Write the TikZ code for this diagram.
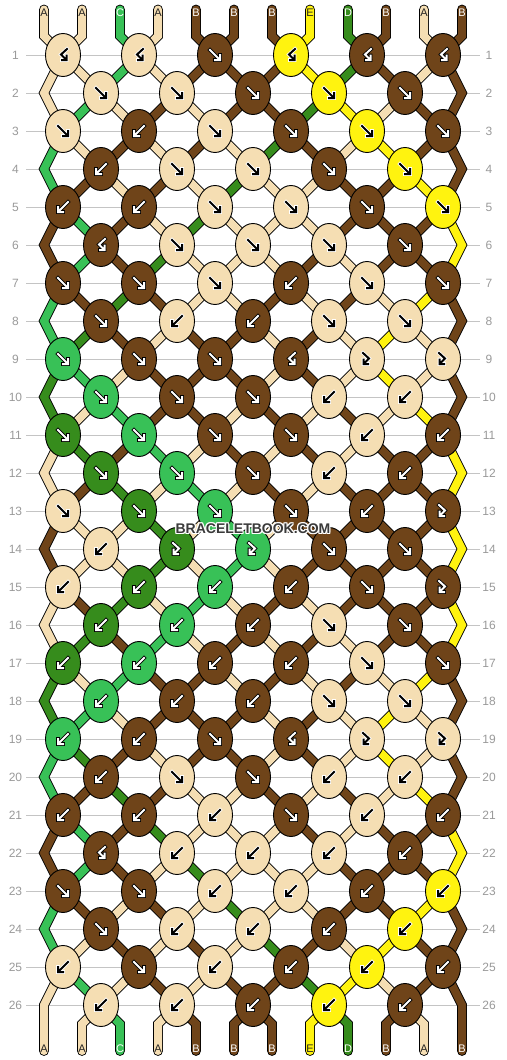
\documentclass[tikz,border=0pt]{standalone}
\usepackage{fontspec}
\setmainfont{Liberation Sans}
\usetikzlibrary{shapes.geometric}
\definecolor{colA}{HTML}{F5DEB3}
\definecolor{colB}{HTML}{6F4419}
\definecolor{colC}{HTML}{38C157}
\definecolor{colD}{HTML}{368C1C}
\definecolor{colE}{HTML}{FFF30F}
\definecolor{numgray}{HTML}{9A9A9A}
\definecolor{linegray}{HTML}{C4C4C4}
\definecolor{wmark}{HTML}{3A3A3A}
\definecolor{darktxt}{HTML}{222222}
\def\fgA{black}\def\fgB{white}\def\fgC{white}\def\fgD{white}\def\fgE{black}
\def\olA{white}\def\olB{black}\def\olC{black}\def\olD{black}\def\olE{white}
\def\lbA{darktxt}\def\lbB{white}\def\lbC{white}\def\lbD{white}\def\lbE{darktxt}
\tikzset{
  knot/.style={ellipse, draw=black, line width=0.9pt, minimum width=35pt, minimum height=43pt, inner sep=0pt},
  strout/.style={line width=9.8pt, black, line cap=round, line join=miter},
  strfill/.style={line width=8pt, line cap=round, line join=miter},
  rnum/.style={font=\fontsize{12}{12}\selectfont, text=numgray, inner sep=0pt},
  lbl/.style={font=\fontsize{11}{11}\selectfont, inner sep=0pt},
  rowline/.style={linegray, line width=1pt},
  wm/.style={font=\fontsize{14}{14}\selectfont\bfseries, inner sep=0pt},
  arr/.style={line cap=rect, line join=miter}
}
% arrow glyphs (y grows downward)
\newcommand\bbshf[1]{\draw[arr,#1] (-5,-5) -- (4,4) (0,5) -- (5,5) -- (5,0);}
\newcommand\bbshb[1]{\draw[arr,#1] (5,-5) -- (-4,4) (0,5) -- (-5,5) -- (-5,0);}
\newcommand\bbshfb[1]{\draw[arr,#1] (-4,-6) -- (2,-0.5) -- (-3,4.5) (-3.5,0.5) -- (-3.5,5) -- (1,5);}
\newcommand\bbshbf[1]{\draw[arr,#1] (4,-6) -- (-2,-0.5) -- (3,4.5) (3.5,0.5) -- (3.5,5) -- (-1,5);}
% knots of one row
\newcommand\bbknots[2]{%
  \foreach \kt/\sc [count=\kk] in {#2}{%
    \edef\kcol{col\sc}\edef\kfg{\csname fg\sc\endcsname}\edef\kol{\csname ol\sc\endcsname}%
    \node[knot, fill=\kcol] (K#1-\kk) at (k#1-\kk) {};
    \begin{scope}[shift={(K#1-\kk.center)}]
      \csname bbsh\kt\endcsname{line width=3.6pt, color=\kol}%
      \csname bbsh\kt\endcsname{line width=2pt, color=\kfg}%
    \end{scope}}}
% string segments
\newcommand\bbstr[2]{%
  \edef\bbcol{col#1}%
  \draw[strout] #2;%
  \draw[strfill,color=\bbcol] #2;}
\newcommand\bbnm[2]{%
  \ifodd#1\relax
    \pgfmathtruncatemacro\bbk{(#2+1)/2}\edef\bbres{k#1-\bbk}%
  \else
    \ifnum#2=1 \edef\bbres{eL#1}\else
    \ifnum#2=12 \edef\bbres{eR#1}\else
      \pgfmathtruncatemacro\bbk{#2/2}\edef\bbres{k#1-\bbk}%
    \fi\fi
  \fi}
\newcommand\bbnormal[2]{%
  \bbnm{#2}{\pp}\let\bbfrom\bbres
  \bbnm{\bbrn}{\pp}\let\bbto\bbres
  \bbstr{#1}{(\bbfrom) -- (\bbto)}}
\newcommand\bbedge[5]{%
  \pgfmathtruncatemacro\bbrnn{#2+2}%
  \ifnum\bbrnn>26 \edef\bbend{#5}\else\edef\bbend{k\bbrnn-#4}\fi
  \bbstr{#1}{(k#2-#4) -- (e#3\bbrn) -- (\bbend)}}
\newcommand\bbseg[2]{%
  \foreach \sc [count=\pp] in {#2}{%
    \pgfmathtruncatemacro\bbrn{#1+1}%
    \ifodd#1\relax
      \ifnum\pp=1 \bbedge{\sc}{#1}{L}{1}{b1}\else
      \ifnum\pp=12 \bbedge{\sc}{#1}{R}{6}{b12}\else
        \bbnormal{\sc}{#1}\fi\fi
    \else
      \ifnum\pp=1 \else\ifnum\pp=12 \else\bbnormal{\sc}{#1}\fi\fi
    \fi}}
\newcommand\bbtop[1]{%
  \foreach \sc [count=\pp] in {#1}{%
    \pgfmathtruncatemacro\bbk{(\pp+1)/2}%
    \bbstr{\sc}{(t\pp) -- (tb\pp) -- (k1-\bbk)}}}
\newcommand\bbbot[1]{%
  \foreach \sc [count=\pp] in {#1}{%
    \ifnum\pp=1 \else\ifnum\pp=12 \else
      \pgfmathtruncatemacro\bbk{\pp/2}%
      \bbstr{\sc}{(k26-\bbk) -- (bb\pp) -- (b\pp)}%
    \fi\fi}}

\begin{document}
\begin{tikzpicture}[x=1pt,y=-1pt]
\useasboundingbox (0,0) rectangle (506,1060);
\fill[white] (0,0) rectangle (506,1060);
% row numbers and guide lines
\foreach \r in {1,...,26}{%
  \pgfmathsetmacro\ky{55+38*(\r-1)}%
  \draw[rowline] (26,\ky) -- (480,\ky);
  \node[rnum] (nl\r) at (15.5,\ky) {\r};
  \node[rnum] (nr\r) at (489,\ky) {\r};
}
% knot positions and helper coordinates
\foreach \r in {1,3,...,25}{%
  \foreach \kk in {1,...,6}{\coordinate (k\r-\kk) at ({63+76*(\kk-1)},{55+38*(\r-1)});}}
\foreach \r in {2,4,...,26}{%
  \foreach \kk in {1,...,5}{\coordinate (k\r-\kk) at ({101+76*(\kk-1)},{55+38*(\r-1)});}
  \coordinate (eL\r) at (44,{55+38*(\r-1)});
  \coordinate (eR\r) at (462,{55+38*(\r-1)});
}
\foreach \pp in {1,...,12}{%
  \coordinate (t\pp) at ({44+38*(\pp-1)},9.5);
  \coordinate (tb\pp) at ({44+38*(\pp-1)},36);
  \coordinate (bb\pp) at ({44+38*(\pp-1)},1024);
  \coordinate (b\pp) at ({44+38*(\pp-1)},1051);
}
% strings
\bbtop{A,A,C,A,B,B,B,E,D,B,A,B}
\bbseg{1}{A,A,C,A,B,B,B,E,D,B,A,B}
\bbseg{2}{A,C,A,B,A,B,B,D,E,A,B,B}
\bbseg{3}{C,A,B,A,B,A,D,B,A,E,B,B}
\bbseg{4}{C,B,A,B,A,D,A,A,B,B,E,B}
\bbseg{5}{B,C,B,A,D,A,A,A,B,B,B,E}
\bbseg{6}{B,C,B,D,A,A,A,B,A,B,B,E}
\bbseg{7}{C,B,D,B,A,A,B,A,B,A,E,B}
\bbseg{8}{C,D,B,A,B,B,A,B,A,E,A,B}
\bbseg{9}{D,C,A,B,B,B,A,B,A,E,A,B}
\bbseg{10}{D,A,C,B,B,A,B,A,B,A,E,B}
\bbseg{11}{A,D,B,C,A,B,A,B,A,B,B,E}
\bbseg{12}{A,B,D,A,C,A,B,A,B,B,B,E}
\bbseg{13}{B,A,A,D,A,C,A,B,B,B,B,E}
\bbseg{14}{B,A,A,D,A,C,A,B,B,B,B,E}
\bbseg{15}{A,B,D,A,C,A,B,A,B,B,B,E}
\bbseg{16}{A,D,B,C,A,B,A,B,A,B,B,E}
\bbseg{17}{D,A,C,B,B,A,B,A,B,A,E,B}
\bbseg{18}{D,C,A,B,B,B,A,B,A,E,A,B}
\bbseg{19}{C,D,B,A,B,B,A,B,A,E,A,B}
\bbseg{20}{C,B,D,B,A,A,B,A,B,A,E,B}
\bbseg{21}{B,C,B,D,A,A,A,B,A,B,B,E}
\bbseg{22}{B,C,B,A,D,A,A,A,B,B,B,E}
\bbseg{23}{C,B,A,B,A,D,A,A,B,B,E,B}
\bbseg{24}{C,A,B,A,B,A,D,B,A,E,B,B}
\bbseg{25}{A,C,A,B,A,B,B,D,E,A,B,B}
\bbbot{A,A,C,A,B,B,B,E,D,B,A,B}
% knots
\bbknots{1}{bf/A,bf/A,f/B,bf/E,bf/B,bf/B}
\bbknots{2}{f/A,f/A,f/B,f/E,f/B}
\bbknots{3}{f/A,b/B,f/A,f/B,f/E,f/B}
\bbknots{4}{b/B,f/A,f/A,f/B,f/E}
\bbknots{5}{b/B,b/B,f/A,f/A,f/B,f/E}
\bbknots{6}{bf/B,f/A,f/A,f/A,f/B}
\bbknots{7}{f/B,f/B,f/A,b/B,f/A,f/B}
\bbknots{8}{f/B,b/A,b/B,f/A,f/A}
\bbknots{9}{f/C,f/B,f/B,bf/B,fb/A,fb/A}
\bbknots{10}{f/C,f/B,f/B,b/A,b/A}
\bbknots{11}{f/D,f/C,f/B,f/B,b/A,b/B}
\bbknots{12}{f/D,f/C,f/B,b/A,b/B}
\bbknots{13}{f/A,f/D,f/C,f/B,b/B,fb/B}
\bbknots{14}{b/A,fb/D,fb/C,f/B,f/B}
\bbknots{15}{b/A,b/D,b/C,b/B,f/B,fb/B}
\bbknots{16}{b/D,b/C,b/B,f/A,f/B}
\bbknots{17}{b/D,b/C,b/B,b/B,f/A,f/B}
\bbknots{18}{b/C,b/B,b/B,f/A,f/A}
\bbknots{19}{b/C,b/B,f/B,bf/B,fb/A,fb/A}
\bbknots{20}{b/B,f/A,f/B,b/A,b/A}
\bbknots{21}{b/B,b/B,b/A,f/B,b/A,b/B}
\bbknots{22}{bf/B,b/A,b/A,b/A,b/B}
\bbknots{23}{f/B,f/B,b/A,b/A,b/B,b/E}
\bbknots{24}{f/B,b/A,b/A,b/B,b/E}
\bbknots{25}{b/A,f/B,b/A,b/B,b/E,b/B}
\bbknots{26}{b/A,b/A,b/B,b/E,b/B}
% string letters
\foreach \sc [count=\pp] in {A,A,C,A,B,B,B,E,D,B,A,B}{%
  \edef\lbc{\csname lb\sc\endcsname}%
  \node[lbl, text=\lbc] (lt\pp) at (t\pp |- 0,13) {\sc};
  \node[lbl, text=\lbc] (lbt\pp) at (b\pp |- 0,1049) {\sc};
}
% watermark
\foreach \dx/\dy [count=\i] in {-1/0,1/0,0/-1,0/1,-1/-1,1/1,-1/1,1/-1}{%
  \node[wm, text=white] (wmh\i) at ({253+\dx},{529+\dy}) {BRACELETBOOK.COM};
}
\node[wm, text=wmark] (wm) at (253,529) {BRACELETBOOK.COM};
\end{tikzpicture}
\end{document}
